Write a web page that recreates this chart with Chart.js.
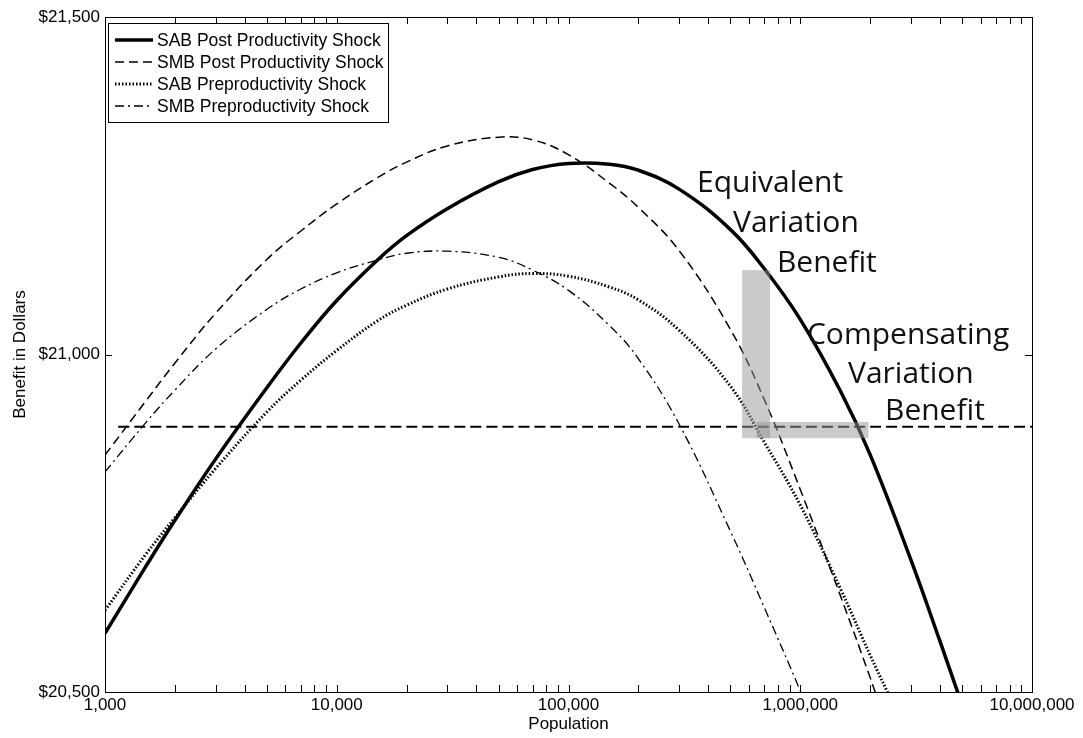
<!DOCTYPE html>
<html>
<head>
<meta charset="utf-8">
<script src="https://cdn.jsdelivr.net/npm/chart.js@4.4.0/dist/chart.umd.min.js"></script>
<style>
    html, body { margin: 0; padding: 0; background: #fff; }
    #caixa { width: 1083px; height: 738px; }
</style>
</head>
<body>
<div id="caixa"><canvas id="graficoBeneficio"></canvas></div>
<script>
// valores
const populacao = [1000, 1500, 2000, 3000, 5000, 7000, 10000, 15000, 20000, 30000, 50000, 70000,
    100000, 150000, 200000, 300000, 500000, 700000, 1000000, 1100000, 1500000, 2000000, 2200000,
    2500000, 3000000, 4000000, 5000000];

const sabPost = [20587, 20686, 20754, 20845, 20951, 21017, 21080, 21140, 21176, 21216, 21256, 21274,
    21283, 21282, 21273, 21245, 21185, 21127, 21052, null, 20944, 20852, null,
    null, 20696, 20576, 20480];
const smbPost = [20851, 20931, 20987, 21061, 21141, 21183, 21223, 21262, 21285, 21309, 21322, 21318,
    21296, 21254, 21218, 21154, 21037, 20933, 20800, null, 20640, 20522, 20480,
    null, null, null, null];
const sabPre = [20621, 20704, 20758, 20831, 20915, 20962, 21006, 21050, 21073, 21097, 21115, 21120,
    21116, 21100, 21081, 21036, 20953, 20870, 20777, null, 20651, 20555, null,
    20484, null, null, null];
const smbPre = [20826, 20899, 20947, 21008, 21067, 21097, 21121, 21140, 21150, 21153, 21144, 21125,
    21095, 21043, 20994, 20897, 20738, 20625, 20502, 20466, null, null, null,
    null, null, null, null];

// linha horizontal tracejada
const basePop = [1140, 10000000];
const baseValor = [20893, 20893];

const legendas = ['SAB Post Productivity Shock', 'SMB Post Productivity Shock',
    'SAB Preproductivity Shock', 'SMB Preproductivity Shock'];

const xTicks = [1000, 10000, 100000, 1000000, 10000000];
const yTicks = [20500, 21000, 21500];

// textos e faixas cinzas (coordenadas em dados)
const textos = ['Equivalent', 'Variation', 'Benefit', 'Compensating', 'Variation', 'Benefit'];
const textoPop = [358500, 512800, 793600, 1069000, 1607000, 2321000];
const textoValor = [21241, 21181, 21122, 21016, 20958, 20903];

const faixaPop = [[561000, 741000], [648000, 1970000]];
const faixaValor = [[20876, 21125], [20876, 20900]];

function pontos(valores) {
    return populacao.map((p, i) => ({ x: p, y: valores[i] })).filter(d => d.y !== null);
}

Chart.defaults.font.family = '"Liberation Sans", Arial, sans-serif';
Chart.defaults.color = '#000';

const moldura = {
    id: 'moldura',
    afterDatasetsDraw(chart) {
        const { ctx, chartArea: a, scales: { x, y } } = chart;
        ctx.save();

        // faixas cinzas
        ctx.fillStyle = 'rgba(150, 150, 150, 0.5)';
        faixaPop.forEach((fp, i) => {
            const x0 = x.getPixelForValue(fp[0]);
            const x1 = x.getPixelForValue(fp[1]);
            const y0 = y.getPixelForValue(faixaValor[i][1]);
            const y1 = y.getPixelForValue(faixaValor[i][0]);
            ctx.fillRect(x0, y0, x1 - x0, y1 - y0);
        });

        // anotações
        ctx.fillStyle = '#111';
        ctx.font = '30px "Open Sans"';
        ctx.textAlign = 'left';
        ctx.textBaseline = 'alphabetic';
        textos.forEach((t, i) => {
            ctx.fillText(t, x.getPixelForValue(textoPop[i]), y.getPixelForValue(textoValor[i]));
        });

        // moldura e marcas
        ctx.strokeStyle = '#000';
        ctx.lineWidth = 1;
        ctx.strokeRect(Math.round(a.left) + 0.5, Math.round(a.top) + 0.5,
            Math.round(a.right - a.left), Math.round(a.bottom - a.top));
        const tam = 7;
        ctx.beginPath();
        for (let k = 3; k <= 6; k++) {
            for (let m = 1; m <= 9; m++) {
                const px = Math.round(x.getPixelForValue(m * Math.pow(10, k))) + 0.5;
                ctx.moveTo(px, a.bottom); ctx.lineTo(px, a.bottom - tam);
                ctx.moveTo(px, a.top); ctx.lineTo(px, a.top + tam);
            }
        }
        yTicks.forEach(v => {
            const py = Math.round(y.getPixelForValue(v)) + 0.5;
            ctx.moveTo(a.left, py); ctx.lineTo(a.left + tam, py);
            ctx.moveTo(a.right, py); ctx.lineTo(a.right - tam, py);
        });
        ctx.stroke();

        // legenda
        const lx = a.left + 3, ly = a.top + 6, lw = 280, lh = 99;
        ctx.fillStyle = '#fff';
        ctx.fillRect(lx, ly, lw, lh);
        ctx.strokeRect(Math.round(lx) + 0.5, Math.round(ly) + 0.5, lw, lh);
        ctx.font = '17.5px "Liberation Sans", Arial, sans-serif';
        ctx.textBaseline = 'middle';
        chart.data.datasets.slice(0, 4).forEach((ds, i) => {
            const ry = ly + 17 + i * 22;
            ctx.beginPath();
            ctx.lineWidth = ds.borderWidth;
            ctx.setLineDash(ds.borderDash || []);
            ctx.moveTo(lx + 7, ry);
            ctx.lineTo(lx + 45, ry);
            ctx.stroke();
            ctx.setLineDash([]);
            ctx.fillStyle = '#000';
            ctx.fillText(ds.label, lx + 49, ry + 1);
        });

        ctx.restore();
    }
};

const ctx = document.getElementById('graficoBeneficio').getContext('2d');

new Chart(ctx, {
    type: 'scatter',
    data: {
        datasets: [
            { label: legendas[0], data: pontos(sabPost), borderColor: '#000', borderWidth: 3.5, borderDash: [] },
            { label: legendas[1], data: pontos(smbPost), borderColor: '#000', borderWidth: 1.5, borderDash: [9, 5] },
            { label: legendas[2], data: pontos(sabPre), borderColor: '#000', borderWidth: 3, borderDash: [1.5, 2] },
            { label: legendas[3], data: pontos(smbPre), borderColor: '#000', borderWidth: 1.3, borderDash: [9, 4, 2, 4] },
            {
                label: 'base',
                data: basePop.map((p, i) => ({ x: p, y: baseValor[i] })),
                borderColor: '#000', borderWidth: 1.8, borderDash: [11, 5]
            }
        ].map(ds => Object.assign(ds, {
            showLine: true,
            pointRadius: 0,
            tension: 0.4,
            clip: 0
        }))
    },
    options: {
        responsive: true,
        maintainAspectRatio: false,
        animation: false,
        layout: { padding: { top: 17, right: 51, left: 0, bottom: 0 } },
        plugins: {
            legend: { display: false },
            tooltip: { enabled: false }
        },
        scales: {
            x: {
                type: 'logarithmic',
                min: 1000,
                max: 10000000,
                afterBuildTicks: s => { s.ticks = xTicks.map(v => ({ value: v })); },
                afterFit: s => { s.height = 46; },
                grid: { display: false, drawTicks: false },
                border: { display: false },
                ticks: {
                    padding: 3,
                    maxRotation: 0,
                    autoSkip: false,
                    font: { size: 17 },
                    callback: v => Number(v).toLocaleString('en-US')
                },
                title: { display: true, text: 'Population', font: { size: 17 }, padding: { top: 0, bottom: 3 } }
            },
            y: {
                min: 20500,
                max: 21500,
                afterBuildTicks: s => { s.ticks = yTicks.map(v => ({ value: v })); },
                afterFit: s => { s.width = 105; },
                grid: { display: false, drawTicks: false },
                border: { display: false },
                ticks: {
                    padding: 5,
                    font: { size: 17 },
                    callback: v => '$' + Number(v).toLocaleString('en-US')
                },
                title: { display: true, text: 'Benefit in Dollars', font: { size: 17 }, padding: { top: 10, bottom: 0 } }
            }
        }
    },
    plugins: [moldura]
});
</script>
</body>
</html>
